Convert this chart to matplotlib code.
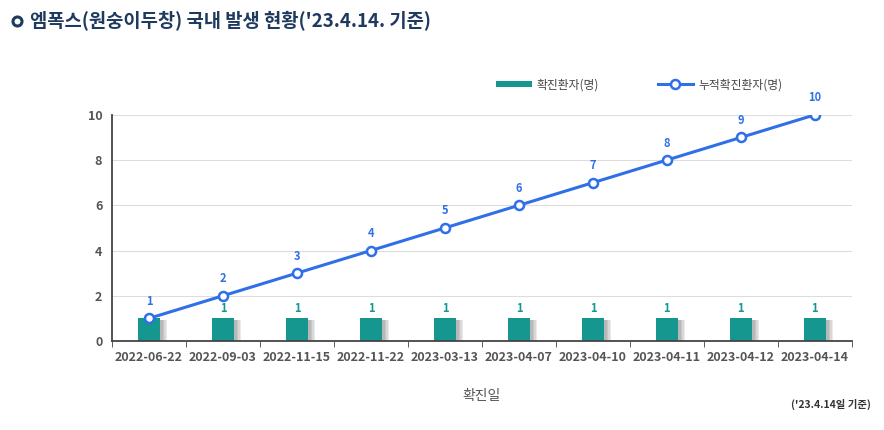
import matplotlib
matplotlib.use("Agg")
import matplotlib.pyplot as plt
import matplotlib.patheffects as pe
from matplotlib.patches import Patch
from matplotlib.lines import Line2D
import numpy as np

plt.rcParams['font.family'] = ['Noto Sans CJK KR', 'DejaVu Sans']

dates = ["2022-06-22", "2022-09-03", "2022-11-15", "2022-11-22", "2023-03-13",
         "2023-04-07", "2023-04-10", "2023-04-11", "2023-04-12", "2023-04-14"]
daily = [1, 1, 1, 1, 1, 1, 1, 1, 1, 1]
cumulative = [1, 2, 3, 4, 5, 6, 7, 8, 9, 10]

TEAL = "#15968f"
BLUE = "#2f6fe8"
GRAY = "#555555"

fig = plt.figure(figsize=(8.84, 4.30), dpi=100)
ax = fig.add_axes((0.1267, 0.207, 0.837, 0.526))

x = np.arange(len(dates))
# soft blurred shadow on the right side of each bar
shadow = [pe.SimplePatchShadow(offset=(d, -1), alpha=0.09, shadow_rgbFace="#222222")
          for d in (5, 4, 3, 2)]
ax.bar(x, daily, width=0.3, color=TEAL, zorder=2,
       path_effects=shadow + [pe.Normal()])
ax.plot(x, cumulative, color=BLUE, lw=2.2, marker="o", ms=6.5,
        markerfacecolor="white", markeredgecolor=BLUE, markeredgewidth=1.8, zorder=3)

for xi, v, c in zip(x, daily, cumulative):
    if c == v:  # hidden under the line label in the original
        continue
    ax.text(xi, v + 0.45, str(v), ha="center", va="center", color=TEAL,
            fontsize=8, fontweight="bold", zorder=4)
for xi, v in zip(x, cumulative):
    ax.text(xi, v + 0.75, str(v), ha="center", va="center", color=BLUE,
            fontsize=8, fontweight="bold", zorder=4)

ax.set_xlim(-0.5, len(dates) - 0.5)
ax.set_ylim(0, 10)
ax.set_yticks(range(0, 11, 2))
ax.set_xticks(x)
ax.set_xticklabels(dates)
ax.tick_params(axis="both", colors=GRAY, labelsize=9, length=0, pad=7)
for lbl in ax.get_xticklabels() + ax.get_yticklabels():
    lbl.set_fontweight("bold")
ax.set_xticks(np.arange(-0.5, len(dates), 1), minor=True)
ax.tick_params(axis="x", which="minor", length=4, color="#444444", direction="out")

ax.grid(axis="y", color="#dddddd", lw=0.8, zorder=0)
for s in ("top", "right"):
    ax.spines[s].set_visible(False)
for s in ("left", "bottom"):
    ax.spines[s].set_color("#444444")
    ax.spines[s].set_linewidth(1.3)

ax.set_xlabel("확진일", color=GRAY, fontsize=10, labelpad=18)

handles = [Patch(facecolor=TEAL, label="확진환자(명)"),
           Line2D([], [], color=BLUE, lw=2.2, marker="o", ms=6.5, markerfacecolor="white",
                  markeredgecolor=BLUE, markeredgewidth=1.8, label="누적확진환자(명)")]
fig.legend(handles=handles, loc="center", bbox_to_anchor=(0.723, 0.803), ncol=2,
           frameon=False, fontsize=8.5, handlelength=3.0, handleheight=0.5,
           handletextpad=0.4, columnspacing=5, labelcolor="#444444")

fig.add_artist(Line2D([0.019], [0.952], transform=fig.transFigure, marker="o", ms=6.5,
                      markerfacecolor="white", markeredgecolor="#1f3a5f", markeredgewidth=2.2))
fig.text(0.034, 0.952, "엠폭스(원숭이두창) 국내 발생 현황('23.4.14. 기준)", fontsize=13.5,
         fontweight="bold", color="#1f3a5f", va="center", ha="left")
fig.text(0.985, 0.06, "('23.4.14일 기준)", fontsize=7.5, fontweight="bold",
         color="#333333", ha="right", va="center")

fig.savefig("out.png", dpi=100)
